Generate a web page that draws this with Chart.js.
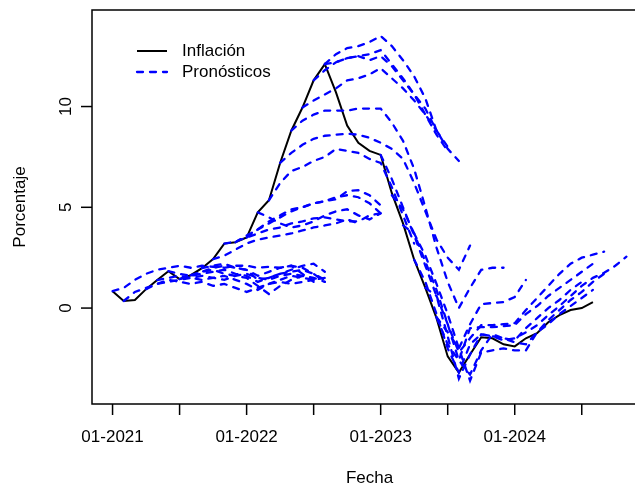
<!DOCTYPE html>
<html>
<head>
<meta charset="utf-8">
<script src="https://cdn.jsdelivr.net/npm/chart.js@4.4.0/dist/chart.umd.min.js"></script>
<style>
html, body { margin: 0; padding: 0; background: #fff; overflow: hidden; }
canvas { display: block; }
</style>
</head>
<body>
<canvas id="chart" width="650" height="487"></canvas>
<script>
// meses contados desde 01-2021 (0 = enero 2021)
var inflacion = [0.84, 0.35, 0.4, 0.94, 1.39, 1.83, 1.44, 1.63, 1.98, 2.43, 3.2, 3.27, 3.5, 4.75, 5.35,
    7.2, 8.8, 9.95, 11.3, 12.1, 10.7, 9.06, 8.2, 7.8, 7.6, 5.7, 4.2, 2.4, 1.0, -0.5, -2.4, -3.2,
    -2.3, -1.45, -1.5, -1.8, -1.9, -1.5, -1.25, -0.7, -0.35, -0.1, 0.0, 0.3];

// mes de inicio de cada pronostico
var pronosticoInicio = [0, 1, 3, 4, 5, 6, 7, 8,
    9, 10, 11, 12, 13,
    14, 15, 16, 17,
    19, 19, 18,
    24, 25, 26, 27, 28, 29, 29];

// valores de cada pronostico (uno por mes desde su inicio)
var pronosticoValores = [
    [0.84, 1.0, 1.4, 1.7, 1.9, 2.0, 2.1, 2.0, 2.1, 2.05, 2.0, 2.1, 2.1, 2.0, 2.05, 2.0, 2.1, 1.7, 1.3],
    [0.35, 0.8, 1.0, 1.2, 1.3, 1.4, 1.5, 1.6, 1.5, 1.4, 1.6, 1.7, 1.5, 1.4, 1.6, 1.7, 1.6, 1.4],
    [0.94, 1.2, 1.4, 1.3, 1.2, 1.3, 1.1, 1.2, 1.0, 0.8, 1.0, 1.2, 1.3, 1.2, 1.3, 1.4],
    [1.39, 1.5, 1.6, 1.5, 1.4, 1.5, 1.6, 1.4, 1.2, 0.9, 1.2, 1.4, 1.6, 1.5, 1.4, 1.5],
    [1.83, 1.7, 1.6, 1.7, 1.8, 1.9, 1.7, 1.6, 1.3, 1.5, 1.7, 1.8, 1.9, 1.7, 1.4],
    [1.44, 1.6, 1.8, 1.9, 1.7, 1.6, 1.5, 1.1, 0.7, 1.1, 1.4, 1.6, 1.5, 1.3],
    [1.63, 1.8, 2.0, 2.1, 2.0, 1.9, 1.6, 1.8, 2.0, 2.1, 2.0, 1.7, 1.3],
    [1.98, 2.1, 2.2, 2.0, 1.9, 1.4, 1.5, 1.7, 1.9, 2.1, 2.2, 1.8],
    [2.43, 2.6, 2.9, 3.2, 3.4, 3.5, 3.6, 3.7, 3.85, 4.0, 4.1, 4.2, 4.4, 4.2],
    [3.2, 3.3, 3.5, 3.7, 3.9, 4.0, 4.2, 4.3, 4.45, 4.5, 4.4, 4.3, 4.3, 4.6, 4.7],
    [3.27, 3.6, 3.9, 4.3, 4.6, 4.9, 5.0, 5.2, 5.3, 5.4, 5.8, 5.85, 5.6, 5.1],
    [3.5, 3.9, 4.2, 4.5, 4.8, 5.0, 5.2, 5.3, 5.5, 5.6, 5.5, 5.2, 4.7],
    [4.75, 4.5, 4.2, 4.0, 4.1, 4.3, 4.6, 4.8, 4.9, 4.6, 4.4, 4.7],
    [5.35, 6.2, 6.8, 7.0, 7.3, 7.5, 7.9, 7.8, 7.7, 7.4, 7.2, 6.0, 4.6, 3.2],
    [7.2, 7.7, 8.1, 8.4, 8.55, 8.6, 8.65, 8.6, 8.45, 8.2, 7.9, 7.4, 6.2, 4.8, 3.4, 2.5, 1.9, 3.1],
    [8.8, 9.3, 9.6, 9.8, 9.8, 9.8, 9.9, 9.9, 9.9, 9.2, 8.3, 6.9, 5.0, 3.0, 1.3, 0.0, 1.0, 1.9, 2.0, 2.0],
    [9.95, 10.3, 10.6, 10.9, 11.3, 11.4, 11.6, 11.9, 11.4, 10.9, 10.3, 9.6, 8.8],
    [12.1, 12.6, 12.9, 13.0, 13.2, 13.5, 13.0, 12.3, 11.5, 10.4, 8.8, 7.9, 7.3],
    [12.1, 12.2, 12.4, 12.5, 12.6, 12.8, 12.1, 11.4, 10.6, 9.9, 8.8, 8.0],
    [11.3, 11.8, 12.2, 12.4, 12.5, 12.3, 12.5, 12.0, 11.3, 10.6, 9.6, 8.6, 7.8],
    [7.6, 6.4, 5.0, 3.6, 2.1, 0.6, -1.4, -3.5, -2.3, -1.3, -1.4, -1.5, -1.6, -1.0, -0.5, 0.0, 0.4, 0.9, 1.3],
    [5.6, 4.9, 3.7, 2.3, 0.9, -0.8, -2.6, -3.3, -2.1, -1.3, -1.5, -1.7, -1.8, -1.2, -0.8, -0.3, 0.1, 0.5, 0.9],
    [4.1, 3.7, 2.6, 1.2, -0.3, -2.0, -3.6, -2.2, -2.1, -2.0, -2.1, -2.1, -1.2, -0.6, -0.1, 0.4, 0.8, 1.3, 1.7],
    [2.4, 1.3, -0.3, -2.0, -3.2, -1.8, -1.3, -1.4, -1.6, -1.5, -1.2, -0.85, -0.35, 0.1, 0.6, 1.1, 1.5, 1.75, 2.1, 2.55],
    [1.0, 0.6, -0.8, -2.2, -1.5, -0.85, -0.85, -0.8, -0.75, -0.1, 0.5, 1.1, 1.7, 2.2, 2.5, 2.65, 2.8],
    [-0.45, -1.8, -2.6, -1.0, -0.95, -0.95, -0.9, -0.85, -0.3, 0.1, 0.6, 1.0, 1.4, 1.8, 2.2],
    [-0.45, -1.2, -2.0, -0.8, 0.2, 0.25, 0.3, 0.55, 1.4]
];

// marcas del eje x cada 6 meses, etiqueta solo en enero
var marcasX = [0, 6, 12, 18, 24, 30, 36, 42, 48];
var etiquetasX = ['01-2021', '', '01-2022', '', '01-2023', '', '01-2024', '', ''];
var marcasY = [0, 5, 10];
var leyenda = ['Inflación', 'Pronósticos'];

var fuente = '17px "Liberation Sans", Arial, sans-serif';
var guion = [6, 7];

var datasets = [];
pronosticoInicio.forEach(function(inicio, i) {
    datasets.push({
        data: pronosticoValores[i].map(function(v, k) { return {x: inicio + k, y: v}; }),
        borderColor: '#0000ff',
        borderWidth: 2.3,
        borderDash: guion,
        borderCapStyle: 'round',
        pointRadius: 0,
        tension: 0,
        fill: false
    });
});
// la serie observada va al final para que quede debajo
datasets.push({
    data: inflacion.map(function(v, k) { return {x: k, y: v}; }),
    borderColor: '#000000',
    borderWidth: 2,
    pointRadius: 0,
    tension: 0,
    fill: false
});

// ejes y leyenda al estilo de R
var ejesR = {
    id: 'ejesR',
    afterDraw: function(chart) {
        var ctx = chart.ctx;
        var a = chart.chartArea;
        var sx = chart.scales.x, sy = chart.scales.y;
        ctx.save();
        ctx.strokeStyle = '#000';
        ctx.fillStyle = '#000';
        ctx.lineWidth = 1.5;
        ctx.setLineDash([]);
        ctx.strokeRect(a.left, a.top, a.right - a.left, a.bottom - a.top);

        ctx.font = fuente;
        ctx.textAlign = 'center';
        ctx.textBaseline = 'middle';
        marcasX.forEach(function(m, i) {
            var px = sx.getPixelForValue(m);
            if (px > a.right) return;
            ctx.beginPath();
            ctx.moveTo(px, a.bottom);
            ctx.lineTo(px, a.bottom + 11);
            ctx.stroke();
            if (etiquetasX[i]) ctx.fillText(etiquetasX[i], px, 437);
        });
        ctx.fillText('Fecha', (a.left + a.right) / 2, 478);

        marcasY.forEach(function(v) {
            var py = sy.getPixelForValue(v);
            ctx.beginPath();
            ctx.moveTo(a.left, py);
            ctx.lineTo(a.left - 11, py);
            ctx.stroke();
            ctx.save();
            ctx.translate(66, py);
            ctx.rotate(-Math.PI / 2);
            ctx.fillText(String(v), 0, 0);
            ctx.restore();
        });
        ctx.save();
        ctx.translate(20, (a.top + a.bottom) / 2);
        ctx.rotate(-Math.PI / 2);
        ctx.fillText('Porcentaje', 0, 0);
        ctx.restore();

        // leyenda
        ctx.textAlign = 'left';
        ctx.lineWidth = 2;
        ctx.beginPath();
        ctx.moveTo(137, 51);
        ctx.lineTo(167, 51);
        ctx.stroke();
        ctx.fillText(leyenda[0], 182, 51);
        ctx.strokeStyle = '#0000ff';
        ctx.lineWidth = 2.3;
        ctx.lineCap = 'round';
        ctx.setLineDash(guion);
        ctx.beginPath();
        ctx.moveTo(137, 72);
        ctx.lineTo(167, 72);
        ctx.stroke();
        ctx.setLineDash([]);
        ctx.fillText(leyenda[1], 182, 72);
        ctx.restore();
    }
};

new Chart(document.getElementById('chart').getContext('2d'), {
    type: 'line',
    data: { datasets: datasets },
    options: {
        responsive: false,
        animation: false,
        devicePixelRatio: 1,
        layout: { padding: { left: 92, right: 3, top: 10, bottom: 83 } },
        plugins: { legend: { display: false }, tooltip: { enabled: false } },
        scales: {
            x: { type: 'linear', min: -1.84, max: 47.84, display: false },
            y: { type: 'linear', min: -4.76, max: 14.79, display: false }
        }
    },
    plugins: [ejesR]
});
</script>
</body>
</html>
